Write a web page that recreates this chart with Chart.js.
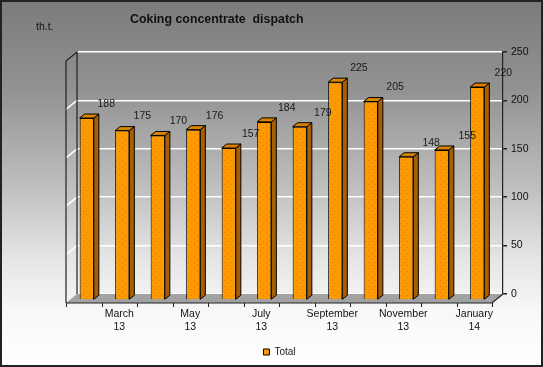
<!DOCTYPE html>
<html>
<head>
<meta charset="utf-8">
<script src="https://cdn.jsdelivr.net/npm/chart.js@4.4.1/dist/chart.umd.min.js"></script>
<style>
  html, body { margin: 0; padding: 0; background: #fff; }
  #wrap { width: 543px; height: 367px; }
</style>
</head>
<body>
<div id="wrap"><canvas id="chart" width="543" height="367"></canvas></div>
<script>
// data
const months = ['February 13', 'March 13', 'April 13', 'May 13', 'June 13', 'July 13',
    'August 13', 'September 13', 'October 13', 'November 13', 'December 13', 'January 14'];
const totals = [188, 175, 170, 176, 157, 184, 179, 225, 205, 148, 155, 220];
const seriesName = 'Total';
const yMin = 0;
const yMax = 250;
const yStep = 50;
const titleText = 'Coking concentrate  dispatch';
const unitText = 'th.t.';

const FONT = '"Liberation Sans", Arial, sans-serif';
const DEPTH_X = 11;   // back wall -> front edge
const DEPTH_Y = 9;
const BAR_DX = -8;    // bars sit a little in front of the back wall
const BAR_DY = 6;
const SIDE_X = 5;
const SIDE_Y = 4;

function makeDots(base, dot) {
    const c = document.createElement('canvas');
    c.width = 6;
    c.height = 6;
    const g = c.getContext('2d');
    g.fillStyle = base;
    g.fillRect(0, 0, 6, 6);
    g.fillStyle = dot;
    g.fillRect(1, 1, 1, 1);
    g.fillRect(4, 4, 1, 1);
    return g.createPattern(c, 'repeat');
}
const barFill = makeDots('#ff9900', '#dd8000');

const depth3d = {
    id: 'depth3d',
    beforeDraw(chart) {
        const {ctx, width, height} = chart;
        const bg = ctx.createLinearGradient(0, 0, 0, height);
        bg.addColorStop(0, '#7b7b7b');
        bg.addColorStop(0.25, '#939393');
        bg.addColorStop(0.5, '#bdbdbd');
        bg.addColorStop(0.7, '#e4e4e4');
        bg.addColorStop(0.85, '#f8f8f8');
        bg.addColorStop(1, '#ffffff');
        ctx.save();
        ctx.fillStyle = bg;
        ctx.fillRect(0, 0, width, height);
        ctx.strokeStyle = '#222';
        ctx.lineWidth = 2;
        ctx.strokeRect(1, 1, width - 2, height - 2);
        ctx.restore();
    },
    beforeDatasetsDraw(chart) {
        const {ctx, chartArea} = chart;
        const {left, right, top, bottom} = chartArea;
        const y = chart.scales.y;
        ctx.save();
        // left wall grid lines
        ctx.strokeStyle = '#ffffff';
        ctx.lineWidth = 1.5;
        for (let v = yMin + yStep; v < yMax; v += yStep) {
            const py = y.getPixelForValue(v);
            ctx.beginPath();
            ctx.moveTo(left - DEPTH_X, py + DEPTH_Y);
            ctx.lineTo(left, py);
            ctx.stroke();
        }
        // wall edges
        ctx.strokeStyle = '#222';
        ctx.lineWidth = 1.2;
        ctx.beginPath();
        ctx.moveTo(left - DEPTH_X, bottom + DEPTH_Y);
        ctx.lineTo(left - DEPTH_X, top + DEPTH_Y);
        ctx.lineTo(left, top);
        ctx.lineTo(left, bottom);
        ctx.stroke();
        // floor
        ctx.fillStyle = '#a2a2a2';
        ctx.beginPath();
        ctx.moveTo(left - DEPTH_X, bottom + DEPTH_Y);
        ctx.lineTo(right - DEPTH_X, bottom + DEPTH_Y);
        ctx.lineTo(right, bottom);
        ctx.lineTo(left, bottom);
        ctx.closePath();
        ctx.fill();
        ctx.beginPath();
        ctx.moveTo(left - DEPTH_X, bottom + DEPTH_Y);
        ctx.lineTo(right - DEPTH_X, bottom + DEPTH_Y);
        ctx.lineTo(right, bottom);
        ctx.stroke();
        // front axis ticks
        const n = months.length;
        const cw = (right - left) / n;
        ctx.lineWidth = 1;
        for (let i = 0; i <= n; i++) {
            const px = Math.round(left - DEPTH_X + i * cw) + 0.5;
            ctx.beginPath();
            ctx.moveTo(px, bottom + DEPTH_Y);
            ctx.lineTo(px, bottom + DEPTH_Y + 4);
            ctx.stroke();
        }

        // shift the bars and draw their sides and tops
        ctx.translate(BAR_DX, BAR_DY);
        const meta = chart.getDatasetMeta(0);
        ctx.strokeStyle = '#000';
        ctx.lineWidth = 1;
        meta.data.forEach(el => {
            const p = el.getProps(['x', 'y', 'base', 'width'], true);
            const l = p.x - p.width / 2;
            const r = p.x + p.width / 2;
            ctx.fillStyle = '#a85f00';
            ctx.beginPath();
            ctx.moveTo(r, p.y);
            ctx.lineTo(r + SIDE_X, p.y - SIDE_Y);
            ctx.lineTo(r + SIDE_X, p.base - SIDE_Y);
            ctx.lineTo(r, p.base);
            ctx.closePath();
            ctx.fill();
            ctx.stroke();
            ctx.fillStyle = '#d98300';
            ctx.beginPath();
            ctx.moveTo(l, p.y);
            ctx.lineTo(l + SIDE_X, p.y - SIDE_Y);
            ctx.lineTo(r + SIDE_X, p.y - SIDE_Y);
            ctx.lineTo(r, p.y);
            ctx.closePath();
            ctx.fill();
            ctx.stroke();
        });
    },
    afterDatasetsDraw(chart) {
        const {ctx} = chart;
        ctx.restore();
        const meta = chart.getDatasetMeta(0);
        ctx.save();
        ctx.fillStyle = '#1a1a1a';
        ctx.font = '10.5px ' + FONT;
        ctx.textAlign = 'center';
        ctx.textBaseline = 'middle';
        meta.data.forEach((el, i) => {
            const p = el.getProps(['x', 'y'], true);
            ctx.fillText(String(totals[i]), p.x + BAR_DX + 19.5 + 0.6 * i, p.y + BAR_DY - 14);
        });
        ctx.restore();
    },
    afterDraw(chart) {
        const {ctx} = chart;
        ctx.save();
        ctx.fillStyle = '#111';
        ctx.textBaseline = 'alphabetic';
        ctx.textAlign = 'left';
        ctx.font = 'bold 12.4px ' + FONT;
        ctx.fillText(titleText, 130, 23);
        ctx.font = '10.5px ' + FONT;
        ctx.fillText(unitText, 36, 30);
        ctx.restore();
    }
};

new Chart(document.getElementById('chart'), {
    type: 'bar',
    data: {
        labels: months,
        datasets: [{
            label: seriesName,
            data: totals,
            backgroundColor: barFill,
            borderColor: '#000',
            borderWidth: 1,
            barPercentage: 0.42,
            categoryPercentage: 0.95
        }]
    },
    options: {
        responsive: false,
        animation: false,
        devicePixelRatio: 1,
        layout: {padding: {top: 52, left: 16, right: 0, bottom: 0}},
        plugins: {
            legend: {
                position: 'bottom',
                labels: {
                    boxWidth: 6,
                    boxHeight: 6,
                    padding: 6,
                    color: '#222',
                    font: {size: 10, family: FONT}
                }
            },
            tooltip: {enabled: false},
            title: {display: false}
        },
        scales: {
            x: {
                grid: {display: false, drawTicks: false},
                border: {display: false},
                ticks: {
                    autoSkip: false,
                    maxRotation: 0,
                    padding: 14,
                    labelOffset: -DEPTH_X,
                    color: '#111',
                    font: {size: 10.5, family: FONT, lineHeight: 1.2},
                    callback: function (value, index) {
                        return index % 2 === 1 ? this.getLabelForValue(value).split(' ') : '';
                    }
                },
                afterFit: s => { s.height = 47; }
            },
            y: {
                position: 'right',
                min: yMin,
                max: yMax,
                grid: {
                    color: '#ffffff',
                    lineWidth: 1.5,
                    tickColor: '#222',
                    tickLength: 4
                },
                border: {display: true, color: '#222', width: 1.2},
                ticks: {
                    stepSize: yStep,
                    padding: 4,
                    color: '#111',
                    font: {size: 10.5, family: FONT}
                },
                afterFit: s => { s.width = 40; }
            },
            pad: {
                type: 'linear',
                position: 'left',
                display: true,
                grid: {display: false, drawTicks: false},
                border: {display: false},
                ticks: {display: false},
                afterFit: s => { s.width = 61; }
            }
        }
    },
    plugins: [depth3d]
});
</script>
</body>
</html>
